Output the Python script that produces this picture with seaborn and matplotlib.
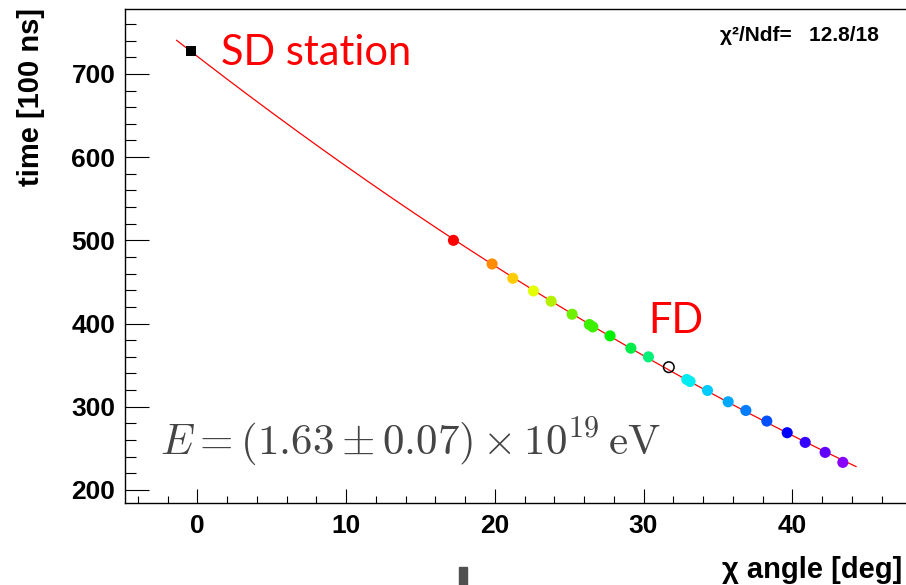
import numpy as np
import pandas as pd
import matplotlib
matplotlib.use("Agg")
import matplotlib.pyplot as plt
from matplotlib.ticker import MultipleLocator, FixedLocator
from matplotlib.patches import Rectangle
import seaborn as sns

# FD pixel timing: viewing angle chi [deg] and trigger time [100 ns]
fd_chi = [17.22, 19.82, 21.21, 22.60, 23.79, 25.20, 26.36, 26.59, 27.75,
          29.15, 30.33, 32.91, 33.13, 34.30, 35.69, 36.88, 38.29, 39.66,
          40.87, 42.21, 43.40]
fd_time = [500.0, 471.6, 454.4, 439.2, 426.8, 411.2, 398.8, 396.0, 385.2,
           370.4, 360.0, 332.8, 330.4, 319.6, 306.0, 295.6, 282.8, 268.8,
           257.2, 245.2, 233.2]
fd_color = ["#ff0000", "#ff8c00", "#ffcc00", "#e4ff00", "#b4f000", "#6ef000",
            "#3cf000", "#3cf000", "#00f000", "#00ec48", "#00f078", "#00ecf0",
            "#00ecf0", "#00ccff", "#00a8ff", "#007cff", "#0050ff", "#0000ff",
            "#3400ff", "#6000ff", "#8800ff"]

# pixel rejected from the fit
rej_chi = [31.70]
rej_time = [347.6]

# surface detector station
sd_chi = [-0.44]
sd_time = [728.0]

x_ticks = [0, 10, 20, 30, 40]
fit_range = (-1.4, 44.3)
chi2_text = "χ²/Ndf=   12.8/18"
energy_text = r"$E = (1.63 \pm 0.07) \times 10^{19}\,\mathrm{eV}$"

W, H = 906, 585
sns.set_theme(style="white")
plt.rcParams["font.family"] = ["Liberation Sans", "DejaVu Sans"]
plt.rcParams["text.color"] = "black"
plt.rcParams["xtick.color"] = "black"
plt.rcParams["ytick.color"] = "black"

fig = plt.figure(figsize=(W / 100, H / 100), dpi=100)
fig.patch.set_facecolor("white")


def fx(px):
    return px / W


def fy(py):
    return 1 - py / H


ax = fig.add_axes([fx(125), fy(503.3), (941 - 125) / W, (503.3 - 9) / H])
ax.set_facecolor("white")

# hybrid time fit through FD pixels and SD station
fit_x = np.array(fd_chi + sd_chi)
fit_y = np.array(fd_time + sd_time)
coef = np.polyfit(fit_x, fit_y, 2)
xs = np.linspace(fit_range[0], fit_range[1], 200)
sns.lineplot(x=xs, y=np.polyval(coef, xs), color="#ff0000", lw=0.9, ax=ax,
             zorder=2)

df = pd.DataFrame({"chi": fd_chi, "time": fd_time,
                   "pix": [str(i) for i in range(len(fd_chi))]})
pal = {str(i): c for i, c in enumerate(fd_color)}
sns.scatterplot(data=df, x="chi", y="time", hue="pix", palette=pal,
                legend=False, s=64, linewidth=0, ax=ax, zorder=3)
sns.scatterplot(x=rej_chi, y=rej_time, marker="o", s=58, facecolor="none",
                edgecolor="black", linewidth=1.1, ax=ax, zorder=3)
sns.scatterplot(x=sd_chi, y=sd_time, marker="s", s=62, color="black",
                linewidth=0, ax=ax, zorder=4)

ax.set_xlim(-4.86, 50)
ax.set_ylim(184, 778)
ax.xaxis.set_major_locator(FixedLocator(x_ticks))
ax.xaxis.set_minor_locator(MultipleLocator(2))
ax.yaxis.set_major_locator(MultipleLocator(100))
ax.yaxis.set_minor_locator(MultipleLocator(20))
ax.tick_params(which="both", direction="in", color="black", width=0.8,
               labelcolor="black",
               top=False, right=False, bottom=True, left=True)
ax.tick_params(axis="y", which="major", length=17, pad=7)
ax.tick_params(axis="y", which="minor", length=8)
ax.tick_params(axis="x", which="major", length=10, pad=8)
ax.tick_params(axis="x", which="minor", length=5)
for lab in ax.get_xticklabels() + ax.get_yticklabels():
    lab.set_fontweight("bold")
    lab.set_fontsize(19)
    lab.set_color("black")
for s in ax.spines.values():
    s.set_color("black")
    s.set_linewidth(1.0)
ax.set_xlabel("")
ax.set_ylabel("")
ax.grid(False)

fig.text(fx(902), fy(578), "χ angle [deg]", ha="right", va="baseline",
         fontsize=21, fontweight="bold", color="black")
fig.text(fx(31), fy(8), "time [100 ns]", rotation=90, ha="center", va="top",
         fontsize=21, fontweight="bold", color="black")

fig.text(fx(879), fy(40.7), chi2_text, ha="right", va="baseline",
         fontsize=15, fontweight="bold", color="black")
fig.text(fx(220.7), fy(65), "SD station", ha="left", va="baseline",
         fontsize=30, color="#ff0000", family="Lato")
fig.text(fx(648.3), fy(332.7), "FD", ha="left", va="baseline",
         fontsize=30, color="#ff0000", family="Lato")
fig.text(fx(160), fy(455), energy_text, ha="left", va="baseline",
         fontsize=31, color="#454545", math_fontfamily="cm")

fig.patches.append(Rectangle((fx(459), 0), 8 / W, 18 / H,
                             transform=fig.transFigure, color="#505050"))

fig.savefig("out.png", dpi=100)
